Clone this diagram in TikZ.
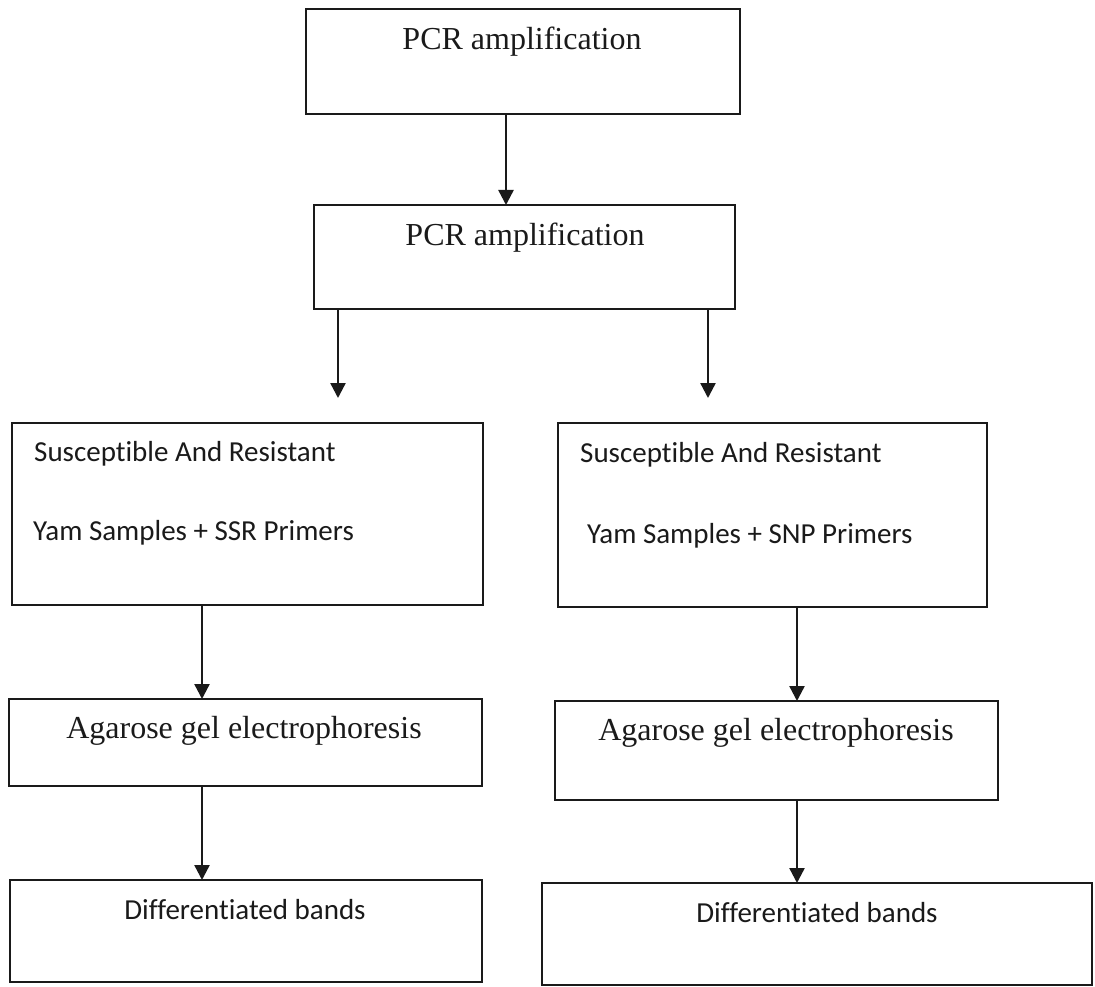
\documentclass[tikz,border=0pt]{standalone}
\usepackage{fontspec}
\setmainfont{Liberation Serif}
\newfontfamily\calfont[Ligatures=NoCommon]{Carlito}
\usetikzlibrary{arrows.meta}
\definecolor{ink}{HTML}{1A1A1A}
\begin{document}
\begin{tikzpicture}[x=1pt,y=-1pt,
  box/.style={draw=ink, line width=2.4pt, rectangle, inner sep=0pt, outer sep=0pt, anchor=north west},
  serif/.style={inner sep=0pt, text=ink, font=\fontsize{32}{38}\selectfont, anchor=base},
  sans/.style={inner sep=0pt, text=ink, font=\calfont\fontsize{29}{35}\selectfont, anchor=base west},
  arr/.style={draw=ink, line width=2.4pt, -{Triangle[width=15pt,length=15pt]}}]
\useasboundingbox (0,0) rectangle (1095,987);
\fill[white] (0,0) rectangle (1095,987);
% boxes
\node[box, minimum width=434pt, minimum height=105pt] (b1) at (306,9) {};
\node[box, minimum width=421pt, minimum height=104pt] (b2) at (314,205) {};
\node[box, minimum width=471pt, minimum height=182pt] (b3l) at (12,423) {};
\node[box, minimum width=429pt, minimum height=184pt] (b3r) at (558,423) {};
\node[box, minimum width=473pt, minimum height=87pt] (b4l) at (9,699) {};
\node[box, minimum width=443pt, minimum height=99pt] (b4r) at (555,701) {};
\node[box, minimum width=472pt, minimum height=102pt] (b5l) at (10,880) {};
\node[box, minimum width=550pt, minimum height=102pt] (b5r) at (542,883) {};
% texts
\node[serif] (t1) at (522,50) {PCR amplification};
\node[serif] (t2) at (525,246) {PCR amplification};
\node[sans] (t3a) at (34,461) {Susceptible And Resistant};
\node[sans] (t3b) at (33,540) {Yam Samples + SSR Primers};
\node[sans] (t3c) at (580,462) {Susceptible And Resistant};
\node[sans] (t3d) at (587,543) {Yam Samples + SNP Primers};
\node[serif] (t4a) at (244,738) {Agarose gel electrophoresis};
\node[serif] (t4b) at (776,740) {Agarose gel electrophoresis};
\node[sans, anchor=base] (t5a) at (245,919) {Differentiated bands};
\node[sans, anchor=base] (t5b) at (817,922) {Differentiated bands};
% arrow positions
\coordinate (x1) at (506,0);
\coordinate (eL) at (338,398);
\coordinate (eR) at (708,398);
\coordinate (x2) at (202,0);
\coordinate (x3) at (797,0);
% arrows
\draw[arr] (b1.south -| x1) -- (b2.north -| x1);
\draw[arr] (b2.south -| eL) -- (eL);
\draw[arr] (b2.south -| eR) -- (eR);
\draw[arr] (b3l.south -| x2) -- (b4l.north -| x2);
\draw[arr] (b4l.south -| x2) -- (b5l.north -| x2);
\draw[arr] (b3r.south -| x3) -- (b4r.north -| x3);
\draw[arr] (b4r.south -| x3) -- (b5r.north -| x3);
\end{tikzpicture}
\end{document}
